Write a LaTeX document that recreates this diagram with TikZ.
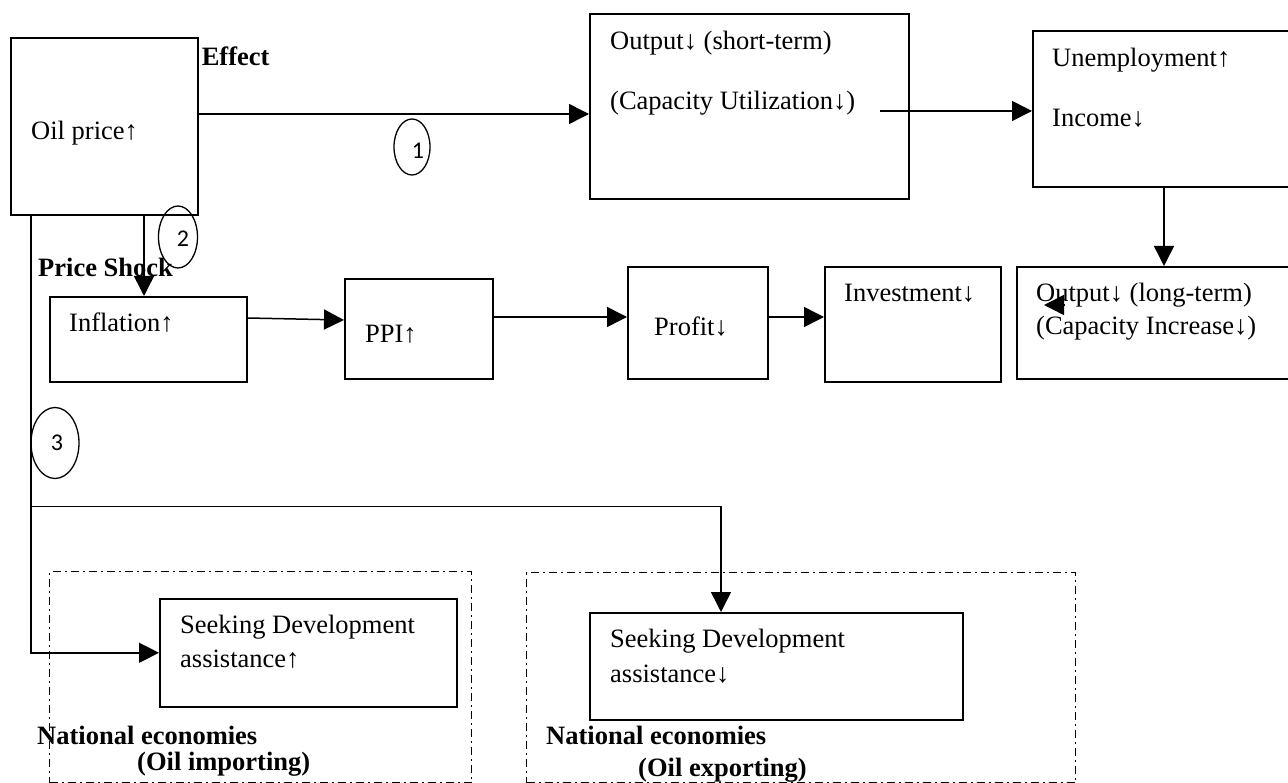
\documentclass[tikz,border=0pt]{standalone}
\usepackage{fontspec}
\setmainfont{Liberation Serif}
\newfontfamily\numfont{Carlito}
\usepackage{tikz}
\usetikzlibrary{calc}
\usetikzlibrary{arrows.meta}
\usetikzlibrary{shapes.geometric}

\begin{document}
\begin{tikzpicture}[x=1pt,y=-1pt,
        box/.style={draw, line width=1.6pt, inner sep=0pt, anchor=north west},
        area/.style={draw, line width=1.2pt, inner sep=0pt, anchor=north west, dash pattern=on 8pt off 4pt on 2pt off 4pt},
        txt/.style={anchor=base west, inner sep=0pt, font=\fontsize{26.5}{32}\selectfont},
        lbl/.style={txt, font=\fontsize{26.5}{32}\selectfont\bfseries},
        ring/.style={draw, ellipse, line width=1.3pt, inner sep=0pt},
        digit/.style={inner sep=0pt, font=\numfont\fontsize{24}{28}\selectfont},
        arr/.style={line width=1.5pt, -{Triangle[length=20pt,width=20pt]}},
        ln/.style={line width=1.5pt}]
        \useasboundingbox (0,0) rectangle (1288,783);
        \clip (0,0) rectangle (1288,783);

        \node[box, minimum width=187pt, minimum height=177pt] (OP) at (10,37) {};
        \node[txt] (OPa) at ($(OP.north west) + (21,103)$) {Oil price↑};
        \node[lbl] (EF) at ($(OP.north east) + (3,29)$) {Effect};

        \node[box, minimum width=319pt, minimum height=185pt] (OS) at (589,13) {};
        \node[txt] (OSa) at ($(OS.north west) + (21,37)$) {Output↓ (short-term)};
        \node[txt] (OSb) at ($(OS.north west) + (21,97)$) {(Capacity Utilization↓)};

        \node[box, minimum width=270pt, minimum height=156pt] (UI) at (1032,30) {};
        \node[txt] (UIa) at ($(UI.north west) + (20,37)$) {Unemployment↑};
        \node[txt] (UIb) at ($(UI.north west) + (20,97)$) {Income↓};

        \node[box, minimum width=290pt, minimum height=112pt] (OL) at (1016,266) {};
        \node[txt] (OLa) at ($(OL.north west) + (20,36)$) {Output↓ (long-term)};
        \node[txt] (OLb) at ($(OL.north west) + (20,69)$) {(Capacity Increase↓)};

        \node[box, minimum width=197pt, minimum height=85pt] (IN) at (49,296) {};
        \node[txt] (INa) at ($(IN.north west) + (20,36)$) {Inflation↑};

        \node[box, minimum width=148pt, minimum height=100pt] (PPI) at (344,278) {};
        \node[txt] (PPIa) at ($(PPI.north west) + (21,65)$) {PPI↑};

        \node[box, minimum width=140pt, minimum height=112pt] (PR) at (627,266) {};
        \node[txt] (PRa) at ($(PR.north west) + (27,70)$) {Profit↓};

        \node[box, minimum width=176pt, minimum height=115pt] (IV) at (824,266) {};
        \node[txt] (IVa) at ($(IV.north west) + (20,36)$) {Investment↓};

        \node[area, minimum width=422pt, minimum height=211pt] (DI) at (49,571) {};
        \node[area, minimum width=549pt, minimum height=210pt] (DE) at (526,572) {};

        \node[box, minimum width=297pt, minimum height=108pt] (SI) at (159,598) {};
        \node[txt] (SIa) at ($(SI.north west) + (21,35)$) {Seeking Development};
        \node[txt] (SIb) at ($(SI.north west) + (21,69)$) {assistance↑};
        \node[lbl] (DIa) at ($(DI.south west) + (-12,-39)$) {National economies};
        \node[lbl] (DIb) at ($(DI.south west) + (88,-13)$) {(Oil importing)};

        \node[box, minimum width=373pt, minimum height=107pt] (SE) at (589,612) {};
        \node[txt] (SEa) at ($(SE.north west) + (21,35)$) {Seeking Development};
        \node[txt] (SEb) at ($(SE.north west) + (21,70)$) {assistance↓};
        \node[lbl] (DEa) at ($(DE.south west) + (20,-39)$) {National economies};
        \node[lbl] (DEb) at ($(DE.south west) + (112,-7)$) {(Oil exporting)};

        \node[lbl] (PS) at ($(OP.south west) + (28,61)$) {Price Shock};

        \coordinate (A) at ($(OP.north east) + (0,77)$);
        \coordinate (B) at ($(OS.north east) + (-30,98)$);
        \coordinate (C) at ($(UI.south west) + (132,0)$);
        \coordinate (D) at ($(PPI.north east) + (0,39)$);
        \coordinate (E) at ($(PR.north east) + (0,51)$);
        \coordinate (F) at ($(OP.south west) + (134,0)$);
        \coordinate (G) at ($(OP.south west) + (21,0)$);
        \coordinate (H) at ($(G) + (0,291)$);
        \coordinate (K) at ($(SE.north west) + (132,0)$);
        \coordinate (T) at ($(OL.north west) + (28,39)$);

        \draw[arr] (A) -- (A -| OS.west);
        \draw[arr] (B) -- (B -| UI.west);
        \draw[arr] (C) -- (C |- OL.north);
        \draw[arr] ($(IN.north east) + (0,22)$) -- ($(PPI.north west) + (0,42)$);
        \draw[arr] (D) -- (D -| PR.west);
        \draw[arr] (E) -- (E -| IV.west);
        \draw[arr] (F) -- (F |- IN.north);
        \draw[arr] (G) |- (SI.west);
        \draw[arr] (H) -| (K);
        \draw[arr] ($(T) + (21,0)$) -- (T);

        \node[ring, minimum width=36pt, minimum height=56pt] (N1) at (412,147) {};
        \node[digit] (N1a) at ($(N1) + (6,4)$) {1};
        \node[ring, minimum width=39pt, minimum height=62pt] (N2) at (178,237) {};
        \node[digit] (N2a) at ($(N2) + (5,2)$) {2};
        \node[ring, minimum width=48pt, minimum height=71pt] (N3) at (55,443) {};
        \node[digit] (N3a) at ($(N3) + (2,0)$) {3};
    \end{tikzpicture}
\end{document}
